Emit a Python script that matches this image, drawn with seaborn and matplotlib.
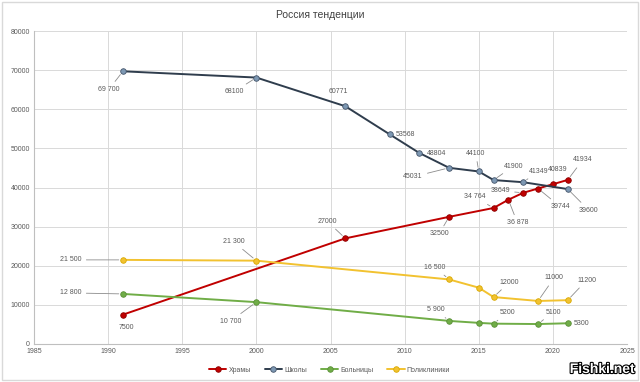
import matplotlib.pyplot as plt
import matplotlib.patheffects as pe
import pandas as pd
import seaborn as sns
from matplotlib.patches import Rectangle

# data
temples_years = [1991, 2006, 2013, 2016, 2017, 2018, 2019, 2020, 2021]
temples = [7500, 27000, 32500, 34764, 36878, 38649, 39744, 40839, 41934]
temples_labels = ["7500", "27000", "32500", "34 764", "36 878", "38649", "39744", "40839", "41934"]

schools_years = [1991, 2000, 2006, 2009, 2011, 2013, 2015, 2016, 2018, 2021]
schools = [69700, 68100, 60771, 53568, 48804, 45031, 44100, 41900, 41349, 39600]
schools_labels = ["69 700", "68100", "60771", "53568", "48804", "45031", "44100", "41900", "41349", "39600"]

hospitals_years = [1991, 2000, 2013, 2015, 2016, 2019, 2021]
hospitals = [12800, 10700, 5900, 5400, 5200, 5100, 5300]
hospitals_labels = ["12 800", "10 700", "5 900", None, "5200", "5100", "5300"]

clinics_years = [1991, 2000, 2013, 2015, 2016, 2019, 2021]
clinics = [21500, 21300, 16500, 14400, 12000, 11000, 11200]
clinics_labels = ["21 500", "21 300", "16 500", None, "12000", "11000", "11200"]

# label offsets in pixels (dx, dy up)
temples_off = [(3, -13), (-18, 17), (-10, -17), (-19, 11), (9, -23), (-23, 2), (22, -18), (5, 15), (15, 20)]
schools_off = [(-14, -18), (-22, -14), (-7, 15), (16, 0), (17, 0), (-36, -9), (-3, 18), (20, 14), (15, 11), (21, -21)]
hospitals_off = [(-52, 1), (-26, -19), (-13, 11), None, (14, 11), (15, 12), (14, 0)]
clinics_off = [(-52, 0), (-23, 19), (-14, 12), None, (16, 15), (16, 23), (19, 20)]

SERIES = [
    ("Храмы", temples_years, temples, temples_labels, temples_off, "#c00000", "#c00000", "#8b0000"),
    ("Школы", schools_years, schools, schools_labels, schools_off, "#2f3d4d", "#7d98b3", "#44546a"),
    ("Больницы", hospitals_years, hospitals, hospitals_labels, hospitals_off, "#70ad47", "#70ad47", "#5a8f38"),
    ("Поликлиники", clinics_years, clinics, clinics_labels, clinics_off, "#f2c230", "#f2c230", "#d9a900"),
]

sns.set_theme(style="white")
plt.rcParams["font.family"] = ["Liberation Sans", "DejaVu Sans"]

fig = plt.figure(figsize=(6.4, 3.82), dpi=100)
ax = fig.add_axes([34 / 640, 1 - 344 / 382, (627 - 34) / 640, (344 - 31) / 382])

for name, xs, ys, labels, offs, lc, mfc, mec in SERIES:
    df = pd.DataFrame({"year": xs, "value": ys})
    sns.lineplot(data=df, x="year", y="value", ax=ax, color=lc, linewidth=1.4,
                 marker="o", markersize=4, markerfacecolor=mfc, markeredgecolor=mec,
                 markeredgewidth=0.6, label=name)
    for x, y, lab, off in zip(xs, ys, labels, offs):
        if lab is None:
            continue
        dist = (off[0] ** 2 + off[1] ** 2) ** 0.5
        arrow = None
        if dist > 17:
            arrow = dict(arrowstyle="-", color="#8c8c8c", lw=0.6, shrinkA=1, shrinkB=3)
        ax.annotate(lab, (x, y), xytext=off, textcoords="offset pixels",
                    ha="center", va="center", fontsize=5, color="#595959",
                    arrowprops=arrow)

ax.set_xlim(1985, 2025)
ax.set_ylim(0, 80000)
ax.set_xticks(range(1985, 2026, 5))
ax.set_yticks(range(0, 80001, 10000))
ax.tick_params(axis="both", labelsize=5, colors="#595959", length=0, pad=3)
ax.grid(True, color="#d9d9d9", linewidth=0.7)
ax.set_axisbelow(True)
for side in ["top", "right"]:
    ax.spines[side].set_visible(False)
for side in ["left", "bottom"]:
    ax.spines[side].set_color("#bfbfbf")
    ax.spines[side].set_linewidth(0.8)
ax.set_xlabel("")
ax.set_ylabel("")

handles, labels = ax.get_legend_handles_labels()
ax.get_legend().remove()
fig.legend(handles, labels, loc="center", bbox_to_anchor=(0.515, 1 - 370 / 382), ncol=4,
           frameon=False, fontsize=5, handlelength=2.5, columnspacing=2.0,
           handletextpad=0.3, labelcolor="#595959")

fig.text(0.5, 1 - 15 / 382, "Россия тенденции", ha="center", va="center",
         fontsize=7.5, color="#404040")

fig.text(0.992, 1 - 369 / 382, "Fishki.net", ha="right", va="center", fontsize=10,
         fontweight="bold", color="white",
         path_effects=[pe.withStroke(linewidth=1.6, foreground="black")])

fig.patches.append(Rectangle((0.003, 0.005), 0.994, 0.99, transform=fig.transFigure,
                             fill=False, edgecolor="#d9d9d9", linewidth=1))

fig.savefig("out.png", dpi=100)
